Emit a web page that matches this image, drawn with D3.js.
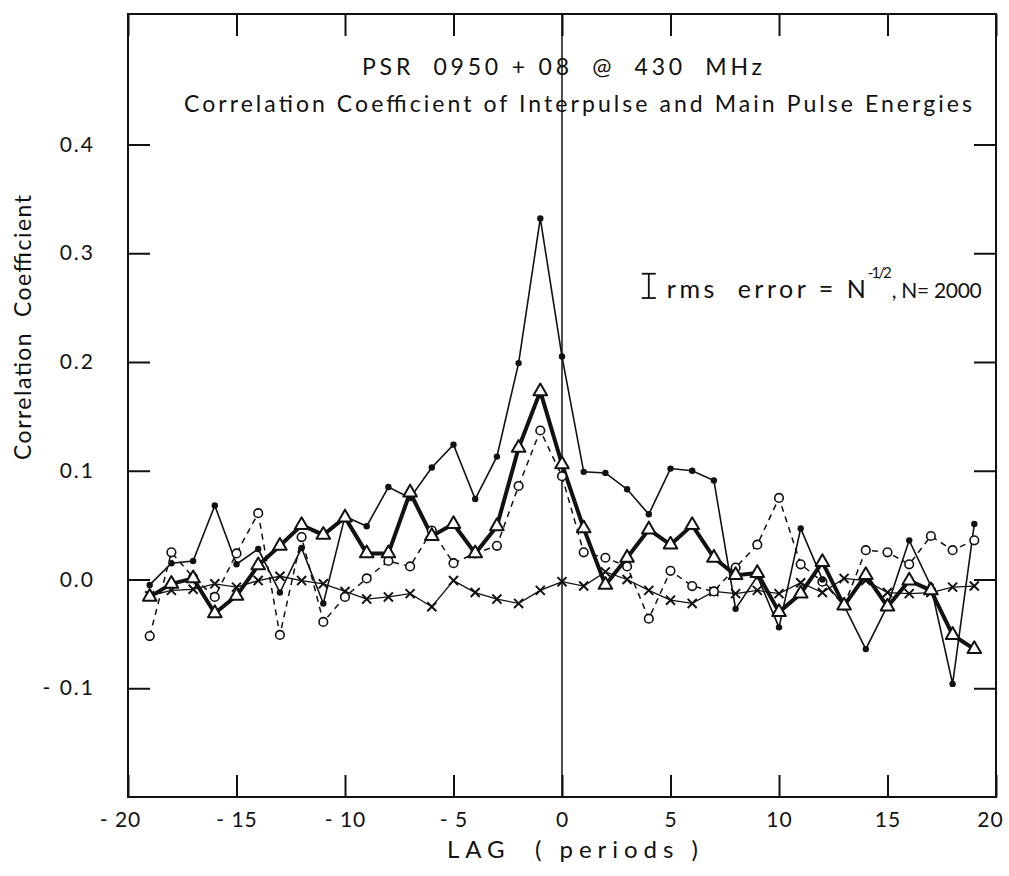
<!DOCTYPE html>
<html>
<head>
    <title>PSR 0950+08 correlation</title>
    <meta charset="utf-8">
    <script src="https://cdn.jsdelivr.net/npm/d3@7"></script>
    <style>
        body { margin: 0; background: #fff; }
        text { font-family: Lato, 'DejaVu Sans', sans-serif; fill: #111; }
    </style>
</head>
<body>
<div class="chart-area"></div>
<script type="text/javascript">
    // lag in periods
    var lags = [-19,-18,-17,-16,-15,-14,-13,-12,-11,-10,-9,-8,-7,-6,-5,-4,-3,-2,-1,0,
                1,2,3,4,5,6,7,8,9,10,11,12,13,14,15,16,17,18,19];

    // filled dots, thin line
    var dotVals = [-0.005,0.015,0.017,0.068,0.014,0.028,-0.012,0.029,-0.022,0.058,
                   0.049,0.085,0.075,0.103,0.124,0.074,0.113,0.199,0.332,0.205,
                   0.099,0.098,0.083,0.060,0.102,0.100,0.091,-0.027,0.003,-0.044,
                   0.047,0.000,-0.024,-0.064,-0.024,0.036,-0.006,-0.096,0.051];

    // open triangles, heavy line
    var triVals = [-0.016,-0.004,0.001,-0.031,-0.015,0.013,0.031,0.050,0.041,0.057,
                   0.024,0.024,0.080,0.040,0.051,0.024,0.049,0.121,0.173,0.106,
                   0.047,-0.005,0.020,0.046,0.032,0.050,0.020,0.004,0.006,-0.030,
                   -0.013,0.016,-0.024,0.004,-0.025,-0.001,-0.010,-0.051,-0.064];

    // open circles, dashed line
    var circVals = [-0.052,0.025,0.002,-0.016,0.024,0.061,-0.051,0.039,-0.039,-0.016,
                    0.001,0.017,0.012,0.045,0.015,0.024,0.031,0.086,0.137,0.095,
                    0.025,0.020,0.012,-0.036,0.008,-0.006,-0.011,0.011,0.032,0.075,
                    0.014,-0.002,-0.024,0.027,0.025,0.014,0.040,0.027,0.036];

    // crosses, thin line
    var crossVals = [-0.015,-0.010,-0.009,-0.004,-0.007,-0.001,0.003,-0.001,-0.004,-0.011,
                     -0.018,-0.016,-0.013,-0.025,-0.001,-0.012,-0.018,-0.022,-0.010,-0.002,
                     -0.006,0.007,0.000,-0.010,-0.019,-0.022,-0.011,-0.013,-0.010,-0.013,
                     -0.003,-0.012,0.001,-0.001,-0.012,-0.013,-0.012,-0.007,-0.006];

    var xTicks = [-20,-15,-10,-5,0,5,10,15,20];
    var yTicks = [-0.1,0.0,0.1,0.2,0.3,0.4];

    var errN = 2000;
    var errLag = 4, errVal = 0.27;

    var margin = { left:128, right:13, top:14, bottom:79 };
    var width = 1009 - margin.left - margin.right,
        height = 876 - margin.top - margin.bottom;

    var svg = d3.select(".chart-area")
        .append("svg")
        .attr("width", 1009)
        .attr("height", 876);

    var g = svg.append("g")
        .attr("transform", "translate(" + margin.left + "," + margin.top + ")");

    var x = d3.scaleLinear().domain([-20, 20]).range([0, width]);
    var y = d3.scaleLinear().domain([-0.2, 0.52]).range([height, 0]);

    function series(vals) {
        return lags.map(function(l, i){ return {lag: l, v: vals[i]}; });
    }

    var fmtX = function(d){ return d < 0 ? "- " + Math.abs(d) : "" + d; };
    var fmtY = function(d){ return d < 0 ? "- " + Math.abs(d).toFixed(1) : d.toFixed(1); };

    // axes, ticks pointing inward
    var xb = g.append("g").attr("transform", "translate(0," + height + ")")
        .call(d3.axisBottom(x).tickValues(xTicks).tickSizeInner(-22).tickSizeOuter(0)
              .tickPadding(15).tickFormat(fmtX));
    var xt = g.append("g")
        .call(d3.axisTop(x).tickValues(xTicks).tickSizeInner(-22).tickSizeOuter(0).tickFormat(""));
    var yl = g.append("g")
        .call(d3.axisLeft(y).tickValues(yTicks).tickSizeInner(-22).tickSizeOuter(0)
              .tickPadding(33).tickFormat(fmtY));
    var yr = g.append("g").attr("transform", "translate(" + width + ",0)")
        .call(d3.axisRight(y).tickValues(yTicks).tickSizeInner(-22).tickSizeOuter(0).tickFormat(""));

    g.selectAll(".domain").remove();
    g.selectAll(".tick line").attr("stroke", "#111").attr("stroke-width", 2);
    g.selectAll(".tick text")
        .style("font-family", "Lato, 'DejaVu Sans', sans-serif")
        .style("font-size", "21px")
        .style("letter-spacing", "2px")
        .style("white-space", "pre")
        .attr("fill", "#111");
    xb.selectAll(".tick text")
        .attr("dy", "0.71em")
        .style("letter-spacing", "1px")
        .attr("dx", function(d){ return d === 20 ? -6 : (d === -20 ? -8 : 0); });

    // frame
    g.append("rect")
        .attr("x", 0).attr("y", 0)
        .attr("width", width).attr("height", height)
        .attr("fill", "none").attr("stroke", "#111").attr("stroke-width", 2);

    // lag 0 line
    g.append("line")
        .attr("x1", x(0)).attr("x2", x(0))
        .attr("y1", 0).attr("y2", height)
        .attr("stroke", "#111").attr("stroke-width", 1.5);

    var line = d3.line()
        .x(function(d){ return x(d.lag); })
        .y(function(d){ return y(d.v); });

    var crossData = series(crossVals),
        circData = series(circVals),
        dotData = series(dotVals),
        triData = series(triVals);

    g.append("path").datum(crossData).attr("d", line)
        .attr("fill", "none").attr("stroke", "#111").attr("stroke-width", 1.3);
    g.append("path").datum(circData).attr("d", line)
        .attr("fill", "none").attr("stroke", "#111").attr("stroke-width", 1.5)
        .attr("stroke-dasharray", "6,5");
    g.append("path").datum(dotData).attr("d", line)
        .attr("fill", "none").attr("stroke", "#111").attr("stroke-width", 1.6);
    g.append("path").datum(triData).attr("d", line)
        .attr("fill", "none").attr("stroke", "#111").attr("stroke-width", 4)
        .attr("stroke-linejoin", "round");

    g.selectAll(".cross").data(crossData).enter().append("path")
        .attr("class", "cross")
        .attr("transform", function(d){ return "translate(" + x(d.lag) + "," + y(d.v) + ")"; })
        .attr("d", d3.symbol().type(d3.symbolTimes).size(55))
        .attr("fill", "none").attr("stroke", "#111").attr("stroke-width", 2);

    g.selectAll(".circ").data(circData).enter().append("circle")
        .attr("class", "circ")
        .attr("cx", function(d){ return x(d.lag); })
        .attr("cy", function(d){ return y(d.v); })
        .attr("r", 4.3)
        .attr("fill", "#fff").attr("stroke", "#111").attr("stroke-width", 1.6);

    g.selectAll(".dot").data(dotData).enter().append("circle")
        .attr("class", "dot")
        .attr("cx", function(d){ return x(d.lag); })
        .attr("cy", function(d){ return y(d.v); })
        .attr("r", 3.2)
        .attr("fill", "#111");

    g.selectAll(".tri").data(triData).enter().append("path")
        .attr("class", "tri")
        .attr("transform", function(d){ return "translate(" + x(d.lag) + "," + y(d.v) + ")"; })
        .attr("d", d3.symbol().type(d3.symbolTriangle).size(80))
        .attr("fill", "#fff").attr("stroke", "#111").attr("stroke-width", 2)
        .attr("stroke-linejoin", "round");

    // rms error bar
    var half = 0.5 / Math.sqrt(errN);
    var ex = x(errLag);
    var eb = g.append("g").attr("stroke", "#111").attr("stroke-width", 1.8);
    eb.append("line").attr("x1", ex).attr("x2", ex).attr("y1", y(errVal + half)).attr("y2", y(errVal - half));
    eb.append("line").attr("x1", ex - 7).attr("x2", ex + 7).attr("y1", y(errVal + half)).attr("y2", y(errVal + half));
    eb.append("line").attr("x1", ex - 7).attr("x2", ex + 7).attr("y1", y(errVal - half)).attr("y2", y(errVal - half));

    var base = y(errVal - half);
    g.append("text")
        .attr("x", ex + 18).attr("y", base)
        .style("font-size", "25px")
        .style("white-space", "pre")
        .attr("textLength", 199)
        .attr("lengthAdjust", "spacing")
        .text("rms  error = N");
    g.append("text")
        .attr("x", ex + 219).attr("y", base - 20)
        .style("font-size", "15px")
        .attr("textLength", 24)
        .attr("lengthAdjust", "spacing")
        .text("-1/2");
    g.append("text")
        .attr("x", ex + 243).attr("y", base)
        .style("font-size", "21px")
        .attr("textLength", 90)
        .attr("lengthAdjust", "spacing")
        .text(", N= 2000");

    // titles
    svg.append("text")
        .attr("x", margin.left + x(0))
        .attr("y", 75)
        .attr("text-anchor", "middle")
        .style("font-size", "23px")
        .style("white-space", "pre")
        .attr("textLength", 400)
        .attr("lengthAdjust", "spacing")
        .text("PSR  0950 + 08  @  430  MHz");

    svg.append("text")
        .attr("x", 184)
        .attr("y", 112)
        .style("font-size", "23px")
        .attr("textLength", 788)
        .attr("lengthAdjust", "spacing")
        .text("Correlation Coefficient of Interpulse and Main Pulse Energies");

    svg.append("text")
        .attr("x", 447)
        .attr("y", 858)
        .style("font-size", "24px")
        .style("white-space", "pre")
        .attr("textLength", 251)
        .attr("lengthAdjust", "spacing")
        .text("LAG  ( periods )");

    svg.append("text")
        .attr("transform", "translate(31,460) rotate(-90)")
        .style("font-size", "23px")
        .style("white-space", "pre")
        .attr("textLength", 265)
        .attr("lengthAdjust", "spacing")
        .text("Correlation  Coefficient");
</script>
</body>
</html>
